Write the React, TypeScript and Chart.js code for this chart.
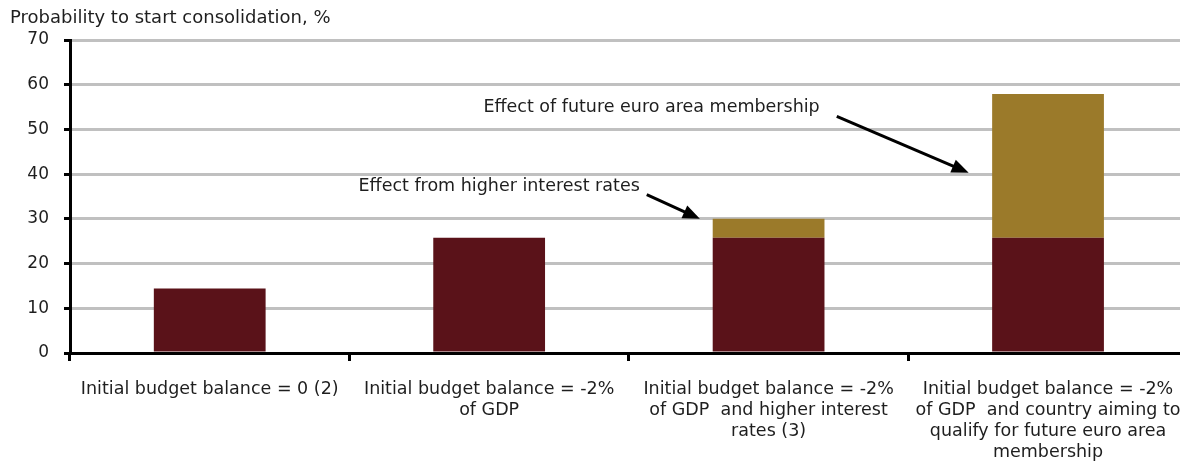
import React, { useEffect, useRef } from "react";
import { Chart, registerables } from "chart.js";

Chart.register(...registerables);

// ---- data ----
const categories: string[][] = [
  ["Initial budget balance = 0 (2)"],
  ["Initial budget balance = -2%", "of GDP"],
  ["Initial budget balance = -2%", "of GDP  and higher interest", "rates (3)"],
  [
    "Initial budget balance = -2%",
    "of GDP  and country aiming to",
    "qualify for future euro area",
    "membership",
  ],
];
const baseProbability: number[] = [14.4, 25.8, 25.8, 25.8];
const addedEffect: (number | null)[] = [null, null, 4.2, 32.1];
const yMin = 0;
const yMax = 70;
const yStep = 10;
const axisTitle = "Probability to start consolidation, %";
const annotationTexts: string[] = [
  "Effect of future euro area membership",
  "Effect from higher interest rates",
];

// ---- annotation placement (data coordinates: category index, value) ----
const annotationLayout = [
  { textX: 2.183, textY: 54.9, fromX: 2.244, fromY: 52.9, toX: 2.716, toY: 40.3 },
  { textX: 1.539, textY: 37.2, fromX: 1.564, fromY: 35.4, toX: 1.754, toY: 30.0 },
];

// ---- styles ----
const FONT = "'DejaVu Sans', sans-serif";
const FS = 17.5;
const TEXT = "#1e1e1e";
const MAROON = "#5a1219";
const GOLD = "#9b7a2a";
const GRID = "#c0c0c0";

function drawArrow(ctx: CanvasRenderingContext2D, x1: number, y1: number, x2: number, y2: number) {
  const L = 17;
  const W = 7;
  const dx = x2 - x1;
  const dy = y2 - y1;
  const len = Math.hypot(dx, dy);
  const ux = dx / len;
  const uy = dy / len;
  const bx = x2 - ux * L;
  const by = y2 - uy * L;
  ctx.strokeStyle = "#000";
  ctx.fillStyle = "#000";
  ctx.lineWidth = 3;
  ctx.beginPath();
  ctx.moveTo(x1, y1);
  ctx.lineTo(bx + ux * 2, by + uy * 2);
  ctx.stroke();
  ctx.beginPath();
  ctx.moveTo(x2, y2);
  ctx.lineTo(bx - uy * W, by + ux * W);
  ctx.lineTo(bx + uy * W, by - ux * W);
  ctx.closePath();
  ctx.fill();
}

const annotationPlugin = {
  id: "annotationsAndTitle",
  afterDraw(chart: any) {
    const { ctx } = chart;
    const x = chart.scales.x;
    const y = chart.scales.y;
    ctx.save();
    ctx.font = `18px ${FONT}`;
    ctx.fillStyle = TEXT;
    ctx.textBaseline = "middle";
    ctx.textAlign = "left";
    ctx.fillText(axisTitle, 10, 18.5);
    annotationLayout.forEach((a, i) => {
      ctx.font = `${FS}px ${FONT}`;
      ctx.fillStyle = TEXT;
      ctx.textAlign = "right";
      ctx.textBaseline = "middle";
      ctx.fillText(annotationTexts[i], x.getPixelForValue(a.textX), y.getPixelForValue(a.textY));
      drawArrow(
        ctx,
        x.getPixelForValue(a.fromX),
        y.getPixelForValue(a.fromY),
        x.getPixelForValue(a.toX),
        y.getPixelForValue(a.toY)
      );
    });
    ctx.restore();
  },
};

export default function App() {
  const ref = useRef<HTMLCanvasElement | null>(null);

  useEffect(() => {
    if (!ref.current) return;
    const chart = new Chart(ref.current, {
      type: "bar",
      data: {
        labels: categories,
        datasets: [
          {
            label: "Base",
            data: baseProbability,
            backgroundColor: MAROON,
            borderWidth: 0,
            barPercentage: 0.4,
            categoryPercentage: 1,
          },
          {
            label: "Effect",
            data: addedEffect,
            backgroundColor: GOLD,
            borderWidth: 0,
            barPercentage: 0.4,
            categoryPercentage: 1,
          },
        ],
      },
      options: {
        responsive: false,
        animation: false,
        layout: { padding: { top: 40, right: 12, left: 0, bottom: 0 } },
        plugins: {
          legend: { display: false },
          tooltip: { enabled: false },
          title: { display: false },
        },
        scales: {
          x: {
            stacked: true,
            z: 1,
            grid: {
              display: true,
              drawOnChartArea: false,
              drawTicks: true,
              tickLength: 8,
              tickColor: "#000",
              tickWidth: 3,
            },
            border: { display: true, color: "#000", width: 3 },
            ticks: {
              color: TEXT,
              font: { family: FONT, size: FS, lineHeight: 21 / FS },
              padding: 18,
              maxRotation: 0,
              minRotation: 0,
              autoSkip: false,
            },
            afterFit(scale: any) {
              scale.height = 108;
            },
          },
          y: {
            stacked: true,
            min: yMin,
            max: yMax,
            grid: {
              color: GRID,
              lineWidth: 3,
              drawTicks: true,
              tickLength: 6,
              tickColor: "#000",
              tickWidth: 3,
            },
            border: { display: true, color: "#000", width: 3 },
            ticks: {
              stepSize: yStep,
              color: TEXT,
              font: { family: FONT, size: 17 },
              padding: 15,
            },
            afterFit(scale: any) {
              scale.width = 70;
            },
          },
        },
      },
      plugins: [annotationPlugin],
    });
    return () => chart.destroy();
  }, []);

  return (
    <div
      style={{
        position: "fixed",
        left: 0,
        top: 0,
        width: 1180,
        height: 461,
        overflow: "hidden",
        background: "#fff",
      }}
    >
      <canvas ref={ref} width={1200} height={461} style={{ display: "block" }} />
    </div>
  );
}
